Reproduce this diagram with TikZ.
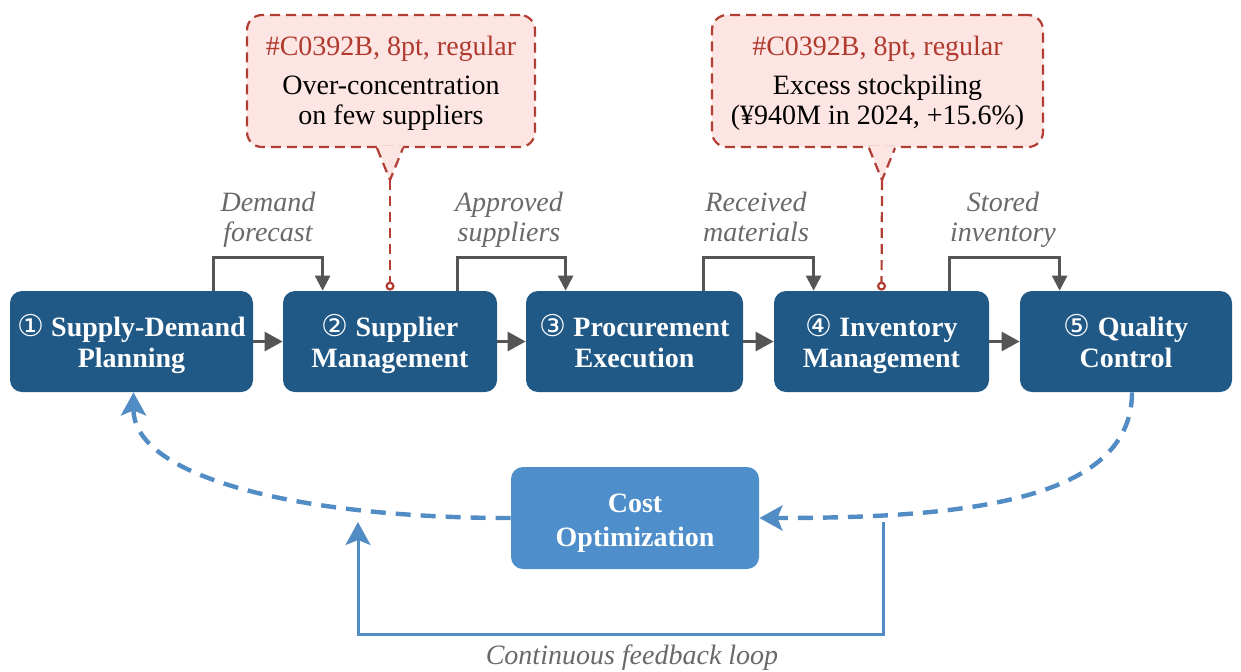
\documentclass[tikz,border=0pt]{standalone}
\usepackage{fontspec}
\setmainfont{Liberation Serif}
\newfontfamily\circfont{DejaVu Sans}
\usetikzlibrary{arrows.meta}

\definecolor{stepblue}{RGB}{32,88,134}
\definecolor{costblue}{RGB}{78,143,203}
\definecolor{returnblue}{RGB}{82,140,196}
\definecolor{flowgray}{RGB}{85,85,85}
\definecolor{labelgray}{RGB}{105,105,105}
\definecolor{issuered}{RGB}{178,62,52}
\definecolor{issuetext}{RGB}{176,58,46}
\definecolor{issuefill}{RGB}{252,229,226}

% circled step numbers in a regular-weight sans face
\newcommand{\stepno}[1]{{\circfont\mdseries\fontsize{15}{15}\selectfont #1}}
% invisible rules that fix the height of a first line and the depth of a last line
\newcommand{\hrl}[1]{\rule{0pt}{#1}}
\newcommand{\drl}[1]{\rule[-#1]{0pt}{#1}}

\begin{document}
\begin{tikzpicture}[x=0.5pt,y=-0.5pt,
  stepbox/.style={fill=stepblue, rounded corners=6pt, minimum height=50.5pt,
    text=white, font=\bfseries\fontsize{14}{15.5}\selectfont, align=center, inner sep=0pt},
  costbox/.style={fill=costblue, rounded corners=6pt, minimum width=124pt, minimum height=51pt,
    text=white, font=\bfseries\fontsize{14}{17}\selectfont, align=center, inner sep=0pt},
  flow/.style={draw=flowgray, line width=1.5pt, -{Triangle[length=9pt,width=9.5pt]}},
  bracket/.style={draw=flowgray, line width=1.3pt, -{Triangle[length=7.5pt,width=7.5pt]}},
  flowlabel/.style={text=labelgray, font=\itshape\fontsize{14}{15}\selectfont, align=center, inner sep=0pt},
  issuebox/.style={draw=issuered, fill=issuefill, dash pattern=on 5pt off 3pt, line width=1.1pt,
    rounded corners=7.5pt, minimum height=66pt, inner sep=0pt},
  issueline/.style={draw=issuered, dash pattern=on 5pt off 3pt, line width=1.1pt},
  issuenote/.style={align=center, font=\fontsize{14}{15}\selectfont, inner sep=0pt},
  returnline/.style={draw=returnblue, line width=2.2pt, dash pattern=on 7.5pt off 5pt,
    -{Stealth[length=11.5pt,width=12.5pt,inset=2.5pt]}},
  feedback/.style={draw=returnblue, line width=1.5pt,
    -{Stealth[length=11.5pt,width=12.5pt,inset=2.5pt]}}
]
\useasboundingbox (0,0) rectangle (1241,671);
\fill[white] (0,0) rectangle (1241,671);

% process steps
\node[stepbox, minimum width=121.5pt] (s1) at (131.5,341.5) {\hrl{14.8pt}\stepno{①} Supply-Demand\\Planning\drl{4.8pt}};
\node[stepbox, minimum width=107pt]   (s2) at (390,341.5)   {\hrl{14.8pt}\stepno{②} Supplier\\Management\drl{4.8pt}};
\node[stepbox, minimum width=108.5pt] (s3) at (634.5,341.5) {\hrl{14.8pt}\stepno{③} Procurement\\Execution\drl{4.8pt}};
\node[stepbox, minimum width=107.5pt] (s4) at (881.5,341.5) {\hrl{14.8pt}\stepno{④} Inventory\\Management\drl{4.8pt}};
\node[stepbox, minimum width=106pt]   (s5) at (1126,341.5)  {\hrl{14.8pt}\stepno{⑤} Quality\\Control\drl{4.8pt}};

% direct flow between steps
\draw[flow] (s1) -- (s2);
\draw[flow] (s2) -- (s3);
\draw[flow] (s3) -- (s4);
\draw[flow] (s4) -- (s5);

% hand-over brackets with their labels
\draw[bracket] ([xshift=-20pt]s1.north east) -- ++(0,-33) -| ([xshift=20pt]s2.north west);
\draw[bracket] ([xshift=-20pt]s2.north east) -- ++(0,-33) -| ([xshift=20pt]s3.north west);
\draw[bracket] ([xshift=-20pt]s3.north east) -- ++(0,-33) -| ([xshift=20pt]s4.north west);
\draw[bracket] ([xshift=-20pt]s4.north east) -- ++(0,-33) -| ([xshift=20pt]s5.north west);
\node[flowlabel] (l1) at (268,220.5)  {\hrl{11.2pt}Demand\\forecast\drl{4.8pt}};
\node[flowlabel] (l2) at (509,220.5)  {\hrl{11.2pt}Approved\\suppliers\drl{4.8pt}};
\node[flowlabel] (l3) at (756,220.5)  {\hrl{11.2pt}Received\\materials\drl{4.8pt}};
\node[flowlabel] (l4) at (1003,220.5) {\hrl{11.2pt}Stored\\inventory\drl{4.8pt}};

% issue callouts
\node[issuebox, minimum width=144pt] (c1) at (391,81) {};
\node[issuenote] (n1) at (391,84) {\hrl{11pt}\textcolor{issuetext}{\#C0392B, 8pt, regular}\\[4.5pt]Over-concentration\\on few suppliers\drl{4.8pt}};
\coordinate (t1) at (390,180);
\coordinate (b1) at (c1.south -| t1);
\fill[issuefill] ([shift={(-6.5pt,1pt)}]b1) -- ([shift={(6.5pt,1pt)}]b1) -- (t1) -- cycle;
\draw[issueline] ([xshift=-6.5pt]b1) -- (t1) -- ([xshift=6.5pt]b1);
\draw[issueline, -{Circle[open,length=4.5pt]}] (t1) -- (s2.north);

\node[issuebox, minimum width=165.5pt] (c2) at (877.5,81) {};
\node[issuenote] (n2) at (877.5,84) {\hrl{11pt}\textcolor{issuetext}{\#C0392B, 8pt, regular}\\[4.5pt]Excess stockpiling\\(¥940M in 2024, +15.6\%)\drl{4.8pt}};
\coordinate (t2) at (882,180);
\coordinate (b2) at (c2.south -| t2);
\fill[issuefill] ([shift={(-6.5pt,1pt)}]b2) -- ([shift={(6.5pt,1pt)}]b2) -- (t2) -- cycle;
\draw[issueline] ([xshift=-6.5pt]b2) -- (t2) -- ([xshift=6.5pt]b2);
\draw[issueline, -{Circle[open,length=4.5pt]}] (t2) -- (s4.north);

% cost optimization and the return paths
\node[costbox] (cost) at (635,518) {\hrl{15.8pt}Cost\\Optimization\drl{4.8pt}};
\draw[returnline] ([xshift=3pt]s5.south) .. controls +(0,110) and +(200,0) .. (cost.east);
\draw[returnline] (cost.west) .. controls +(-211,0) and +(0,85) .. ([xshift=1pt]s1.south);

% continuous feedback loop
\coordinate (fbR) at (883,522);
\coordinate (fbL) at (358,522);
\draw[feedback] (fbR) -- ++(0,112) -| (fbL);
\node[flowlabel, anchor=base] (fbl) at (632,664) {Continuous feedback loop};
\end{tikzpicture}
\end{document}
